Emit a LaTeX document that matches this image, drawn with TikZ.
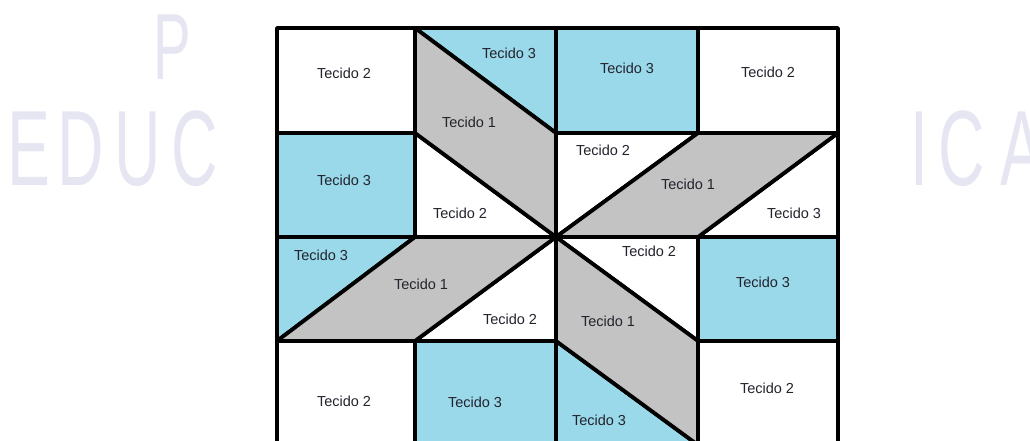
\documentclass[tikz,border=0pt]{standalone}
\usepackage{fontspec}
\setmainfont{Liberation Sans}
\definecolor{tblue}{RGB}{153,217,234}
\definecolor{tgray}{RGB}{195,195,195}
\definecolor{ttext}{RGB}{35,35,45}
\definecolor{wmark}{RGB}{230,230,243}
\begin{document}
\begin{tikzpicture}[x=1pt,y=-1pt,
  patch/.style={draw=black,line width=3.8pt,line join=round},
  bpatch/.style={patch,fill=tblue},
  gpatch/.style={patch,fill=tgray},
  wpatch/.style={patch,fill=white},
  lbl/.style={font=\fontsize{14.5}{16}\selectfont,text=ttext,inner sep=0pt},
  wm/.style={font=\fontsize{107}{110}\selectfont,text=wmark,inner sep=0pt,anchor=base,xscale=0.6}]
\clip (0,0) rectangle (1030,441);
\fill[fill=white] (0,0) rectangle (1030,441);
% watermark
\node[wm] (wE) at (29,185) {E};
\node[wm] (wD) at (81,185) {D};
\node[wm] (wU) at (138,185) {U};
\node[wm] (wC) at (195,185) {C};
\node[wm,font=\fontsize{94}{96}\selectfont] (wP) at (172,80) {P};
\node[wm] (wI) at (919,185) {I};
\node[wm] (wC2) at (962,185) {C};
\node[wm] (wA) at (1022,185) {A};
% grid values
\def\xa{277}\def\xb{415}\def\xc{556}\def\xd{698}\def\xe{838}
\def\ya{28}\def\yb{133}\def\yc{237}\def\yd{341}\def\ye{445}
% full squares
\draw[wpatch] (\xa,\ya) rectangle (\xb,\yb);
\draw[bpatch] (\xc,\ya) rectangle (\xd,\yb);
\draw[wpatch] (\xd,\ya) rectangle (\xe,\yb);
\draw[bpatch] (\xa,\yb) rectangle (\xb,\yc);
\draw[bpatch] (\xd,\yc) rectangle (\xe,\yd);
\draw[wpatch] (\xa,\yd) rectangle (\xb,\ye);
\draw[bpatch] (\xb,\yd) rectangle (\xc,\ye);
\draw[wpatch] (\xd,\yd) rectangle (\xe,\ye);
% triangles
\draw[bpatch] (\xb,\ya) -- (\xc,\ya) -- (\xc,\yb) -- cycle;
\draw[wpatch] (\xb,\yb) -- (\xb,\yc) -- (\xc,\yc) -- cycle;
\draw[wpatch] (\xc,\yb) -- (\xd,\yb) -- (\xc,\yc) -- cycle;
\draw[wpatch] (\xe,\yb) -- (\xe,\yc) -- (\xd,\yc) -- cycle;
\draw[bpatch] (\xa,\yc) -- (\xb,\yc) -- (\xa,\yd) -- cycle;
\draw[wpatch] (\xc,\yc) -- (\xc,\yd) -- (\xb,\yd) -- cycle;
\draw[wpatch] (\xc,\yc) -- (\xd,\yc) -- (\xd,\yd) -- cycle;
\draw[bpatch] (\xc,\yd) -- (\xd,\ye) -- (\xc,\ye) -- cycle;
% parallelograms
\draw[gpatch] (\xb,\ya) -- (\xc,\yb) -- (\xc,\yc) -- (\xb,\yb) -- cycle;
\draw[gpatch] (\xc,\yc) -- (\xd,\yb) -- (\xe,\yb) -- (\xd,\yc) -- cycle;
\draw[gpatch] (\xa,\yd) -- (\xb,\yc) -- (\xc,\yc) -- (\xb,\yd) -- cycle;
\draw[gpatch] (\xc,\yc) -- (\xd,\yd) -- (\xd,\ye) -- (\xc,\yd) -- cycle;
% labels
\node[lbl] (t00) at (344,73) {Tecido 2};
\node[lbl] (t10) at (509,53) {Tecido 3};
\node[lbl] (p1) at (469,122) {Tecido 1};
\node[lbl] (t01) at (344,180) {Tecido 3};
\node[lbl] (t11) at (460,213) {Tecido 2};
\node[lbl] (t20) at (627,68) {Tecido 3};
\node[lbl] (t30) at (768,72) {Tecido 2};
\node[lbl] (t21) at (603,150) {Tecido 2};
\node[lbl] (p2) at (688,184) {Tecido 1};
\node[lbl] (t31) at (794,213) {Tecido 3};
\node[lbl] (t02) at (321,255) {Tecido 3};
\node[lbl] (p3) at (421,284) {Tecido 1};
\node[lbl] (t12) at (510,319) {Tecido 2};
\node[lbl] (t03) at (344,401) {Tecido 2};
\node[lbl] (t13) at (475,402) {Tecido 3};
\node[lbl] (t22) at (649,251) {Tecido 2};
\node[lbl] (t32) at (763,282) {Tecido 3};
\node[lbl] (p4) at (608,321) {Tecido 1};
\node[lbl] (t33) at (767,388) {Tecido 2};
\node[lbl] (t23) at (599,420) {Tecido 3};
\end{tikzpicture}
\end{document}
